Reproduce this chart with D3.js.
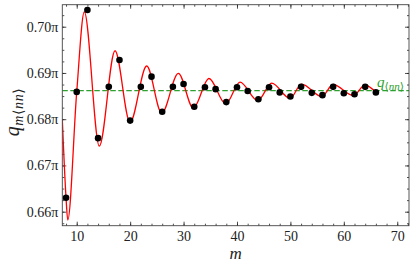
<!DOCTYPE html>
<html>
<head>
<meta charset="utf-8">
<script src="https://cdn.jsdelivr.net/npm/d3@7"></script>
<style>
  body { margin: 0; background: #fff; }
  svg text { font-family: "Liberation Serif", "DejaVu Serif", serif; fill: #222; }
</style>
</head>
<body>
<div id="chart"></div>
<script>
// sampled values q_m<nn> (units of pi)
var mValues = [8, 10, 12, 14, 16, 18, 20, 22, 24, 26, 28, 30, 32, 34, 36,
  38, 40, 42, 44, 46, 48, 50, 52, 54, 56, 58, 60, 62, 64, 66];
var qValues = [0.6630, 0.6859, 0.7036, 0.6759, 0.6870, 0.6928, 0.6797, 0.6870, 0.6892, 0.6816,
  0.6870, 0.6876, 0.6827, 0.6869, 0.6865, 0.6837, 0.6869, 0.6861, 0.6843, 0.6869,
  0.6858, 0.6849, 0.6870, 0.6857, 0.6852, 0.6870, 0.6856, 0.6854, 0.6870, 0.6858];

// fitted curve (turning points and a few extra points)
var fitM = [7.3, 7.55, 8.0, 8.32, 10.0, 11.42, 14.23, 17.17, 19.98, 23.10, 25.91, 29.02,
  31.82, 34.76, 37.89, 40.56, 43.88, 46.5, 49.92, 52.1, 55.85, 58.0, 61.77, 63.96, 66.0];
var fitQ = [0.6800, 0.6733, 0.6630, 0.6582, 0.6859, 0.7032, 0.6742, 0.6948, 0.6793, 0.6915,
  0.6813, 0.6899, 0.6824, 0.6888, 0.6833, 0.6880, 0.6840, 0.6878, 0.6845, 0.6876,
  0.6849, 0.6875, 0.6851, 0.6874, 0.6858];

var qNN = 0.68616;

var xTicks = [10, 20, 30, 40, 50, 60, 70];
var yTicks = [0.66, 0.67, 0.68, 0.69, 0.70];
var xMinor = d3.range(8, 73, 2);
var yMinor = d3.range(0.6575, 0.7050, 0.0025);

var width = 415, height = 266;
var pLeft = 62.3, pRight = 409, pTop = 4.7, pBottom = 225.7;

var svg = d3.select("#chart").append("svg")
  .attr("width", width)
  .attr("height", height);

var x = d3.scaleLinear().domain([7.3, 72.2]).range([pLeft, pRight]);
var y = d3.scaleLinear().domain([0.65697, 0.70476]).range([pBottom, pTop]);

svg.append("clipPath").attr("id", "clip")
  .append("rect")
  .attr("x", pLeft).attr("y", pTop)
  .attr("width", pRight - pLeft).attr("height", pBottom - pTop);

// axes, ticks pointing inward on all four sides
function tickAxis(axis, transform, size, values, fmt) {
  var g = svg.append("g")
    .attr("transform", transform)
    .call(axis.tickValues(values).tickSize(size).tickSizeOuter(0).tickPadding(4).tickFormat(fmt));
  g.select(".domain").remove();
  g.selectAll("line").attr("stroke", "#222").attr("stroke-width", 0.8);
  g.selectAll("text").attr("font-size", 14).attr("fill", "#222");
  return g;
}

var noLabel = function () { return ""; };

tickAxis(d3.axisBottom(x), "translate(0," + pBottom + ")", -4, xTicks, d3.format("d"))
  .selectAll("text").attr("dy", "0.8em");
tickAxis(d3.axisBottom(x), "translate(0," + pBottom + ")", -2, xMinor, noLabel);
tickAxis(d3.axisTop(x), "translate(0," + pTop + ")", -4, xTicks, noLabel);
tickAxis(d3.axisTop(x), "translate(0," + pTop + ")", -2, xMinor, noLabel);

tickAxis(d3.axisLeft(y), "translate(" + pLeft + ",0)", -4, yTicks, function (d) {
  return d3.format(".2f")(d) + "\u03c0";
});
tickAxis(d3.axisLeft(y), "translate(" + pLeft + ",0)", -2, yMinor, noLabel);
tickAxis(d3.axisRight(y), "translate(" + pRight + ",0)", -4, yTicks, noLabel);
tickAxis(d3.axisRight(y), "translate(" + pRight + ",0)", -2, yMinor, noLabel);

var plot = svg.append("g").attr("clip-path", "url(#clip)");

// reference level
plot.append("line")
  .attr("x1", pLeft).attr("x2", pRight)
  .attr("y1", y(qNN)).attr("y2", y(qNN))
  .attr("stroke", "#2ca02c")
  .attr("stroke-width", 1.3)
  .attr("stroke-dasharray", "5.5,2.5");

var line = d3.line()
  .x(function (d) { return x(d[0]); })
  .y(function (d) { return y(d[1]); })
  .curve(d3.curveMonotoneX);

plot.append("path")
  .datum(d3.zip(fitM, fitQ))
  .attr("d", line)
  .attr("fill", "none")
  .attr("stroke", "red")
  .attr("stroke-width", 1.3);

svg.append("g").selectAll("circle")
  .data(d3.zip(mValues, qValues))
  .enter().append("circle")
  .attr("cx", function (d) { return x(d[0]); })
  .attr("cy", function (d) { return y(d[1]); })
  .attr("r", 3.3)
  .attr("fill", "#000");

// frame
svg.append("rect")
  .attr("x", pLeft).attr("y", pTop)
  .attr("width", pRight - pLeft).attr("height", pBottom - pTop)
  .attr("fill", "none")
  .attr("stroke", "#444")
  .attr("stroke-width", 0.9);

// labels
var gl = svg.append("text")
  .attr("x", 377).attr("y", 87)
  .attr("font-size", 15)
  .style("fill", "#2ca02c");
gl.append("tspan").attr("font-style", "italic").text("q");
gl.append("tspan").attr("font-size", 11).attr("dy", 3).text("\u27e8");
gl.append("tspan").attr("font-size", 11).attr("font-style", "italic").text("nn");
gl.append("tspan").attr("font-size", 11).text("\u27e9");

svg.append("text")
  .attr("x", (pLeft + pRight) / 2).attr("y", 259)
  .attr("text-anchor", "middle")
  .attr("font-size", 17)
  .attr("font-style", "italic")
  .text("m");

var yl = svg.append("text")
  .attr("transform", "translate(19," + 112 + ") rotate(-90)")
  .attr("text-anchor", "middle")
  .attr("font-size", 20)
  .attr("letter-spacing", 0.6);
yl.append("tspan").attr("font-style", "italic").text("q");
yl.append("tspan").attr("font-size", 14).attr("dy", 4).attr("font-style", "italic").text("m");
yl.append("tspan").attr("font-size", 14).text("\u27e8");
yl.append("tspan").attr("font-size", 14).attr("font-style", "italic").text("nn");
yl.append("tspan").attr("font-size", 14).text("\u27e9");
</script>
</body>
</html>
